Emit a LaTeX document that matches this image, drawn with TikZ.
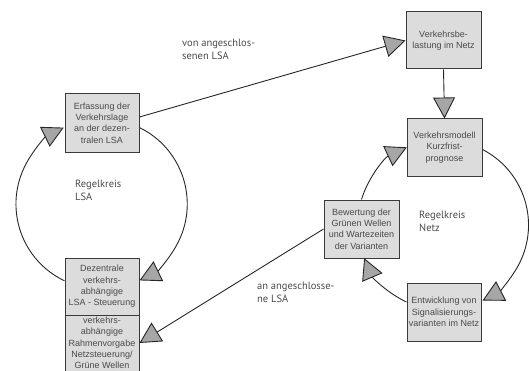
\documentclass[tikz,border=0pt]{standalone}
\usepackage{fontspec}
\setmainfont{Liberation Sans}
\newfontfamily\labelfont{PT Sans}
\usetikzlibrary{arrows.meta}
\definecolor{boxfill}{HTML}{DCDCDC}
\definecolor{boxline}{HTML}{3A3A3A}
\definecolor{tipfill}{HTML}{A6A6A6}
\definecolor{txt}{HTML}{4A4A4A}
\begin{document}
\begin{tikzpicture}[x=1pt,y=1pt,
 box/.style={draw=boxline, line width=1pt, fill=boxfill, minimum width=74pt, minimum height=58pt, inner sep=0pt, align=center, text=txt, font=\fontsize{9}{11.3}\selectfont},
 arr/.style={draw=black!85, line width=0.9pt, -{Triangle[length=21pt,width=22pt,fill=tipfill]}},
 lbl/.style={anchor=west, align=left, text=txt, font=\labelfont\fontsize{10.5}{13}\selectfont, inner sep=0pt}]
\useasboundingbox (0,0) rectangle (529,370);
\clip (0,0) rectangle (529,370);
% boxes
\node[box] (A) at (102,247) {Erfassung der\\Verkehrslage\\an der dezen-\\tralen LSA};
\node[box, minimum height=57pt] (B) at (102,83.5) {Dezentrale\\verkehrs-\\abhängige\\LSA - Steuerung};
\node[box, minimum height=56pt] (C) at (102,27) {verkehrs-\\abhängige\\Rahmenvorgabe\\Netzsteuerung/\\Grüne Wellen};
\node[box, minimum width=75pt, minimum height=57pt] (D) at (443.5,329.5) {Verkehrsbe-\\lastung im Netz};
\node[box, minimum width=75pt, minimum height=57pt] (E) at (444.5,222.5) {Verkehrsmodell\\Kurzfrist-\\prognose};
\node[box, minimum width=75pt] (F) at (361.5,141) {Bewertung der\\Grünen Wellen\\und Wartezeiten\\der Varianten};
\node[box] (G) at (444,58) {Entwicklung von\\Signalisierungs-\\varianten im Netz};
% labels
\node[lbl] (l1) at (182,321) {von angeschlos-\\senen LSA};
\node[lbl] (l2) at (75,180) {Regelkreis\\LSA};
\node[lbl] (l3) at (419,149) {Regelkreis\\Netz};
\node[lbl] (l4) at (257,78) {an angeschlosse-\\ne LSA};
% connectors
\draw[arr] ([yshift=6pt]A.east) -- (D.west);
\draw[arr] (D.south) -- (E.north);
\draw[arr] (F.west) -- (C.east);
\draw[arr] ([yshift=-4.6pt]A.east) arc[start angle=64, end angle=-64, radius=85pt];
\draw[arr] ([yshift=5.7pt]B.west) arc[start angle=244.6, end angle=116, radius=85pt];
\draw[arr] ([yshift=-2pt]E.east) arc[start angle=62.7, end angle=-62.7, radius=85pt];
\draw[arr] ([yshift=10pt]G.west) arc[start angle=245, end angle=203, radius=85pt];
\draw[arr] (F.north) arc[start angle=163, end angle=115, radius=85pt];
\end{tikzpicture}
\end{document}
